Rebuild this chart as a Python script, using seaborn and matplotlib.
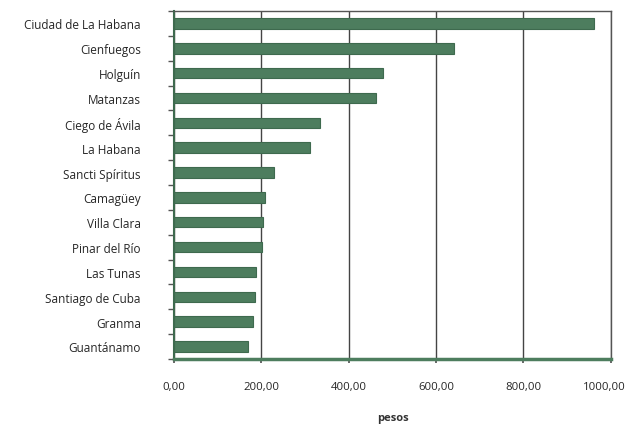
import matplotlib
matplotlib.use("Agg")
import matplotlib.pyplot as plt
import matplotlib.transforms as mtransforms
import seaborn as sns
import pandas as pd
import numpy as np
from matplotlib.ticker import FuncFormatter, FixedLocator

provincias = ["Ciudad de La Habana", "Cienfuegos", "Holguín", "Matanzas",
              "Ciego de Ávila", "La Habana", "Sancti Spíritus", "Camagüey",
              "Villa Clara", "Pinar del Río", "Las Tunas", "Santiago de Cuba",
              "Granma", "Guantánamo"]
valores = [962, 640, 478, 462, 334, 311, 229, 208, 203, 201, 187, 185, 181, 169]
xticks = [0, 200, 400, 600, 800, 1000]
xlabel = "pesos"

df = pd.DataFrame({"provincia": provincias, "valor": valores})

sns.set_theme(style="white")
plt.rcParams['font.family'] = ['Open Sans', 'DejaVu Sans']

fig = plt.figure(figsize=(6.31, 4.31), dpi=100)
ax = fig.add_axes([0.276, 0.165, 0.692, 0.807])

sns.barplot(data=df, x="valor", y="provincia", orient="h", color="#4d7d5e",
            saturation=1, width=0.42, ax=ax, edgecolor="#3e6a4e", linewidth=0.8)

ax.set_xlim(0, 1000)
ax.xaxis.set_major_locator(FixedLocator(xticks))
ax.xaxis.set_major_formatter(FuncFormatter(lambda v, p: f"{v:.2f}".replace(".", ",")))
ax.yaxis.set_minor_locator(FixedLocator(np.arange(-0.5, len(provincias), 1.0)))
ax.grid(axis="x", color="#444444", linewidth=1)
ax.set_axisbelow(True)
ax.set_xlabel(xlabel, fontsize=8, labelpad=14, fontweight="bold", color="#333333")
ax.set_ylabel("")
ax.tick_params(axis="x", labelsize=8.2, pad=13, length=3, color="#555555", direction="out", bottom=True)
ax.tick_params(axis="y", labelsize=8.5, pad=24, length=0)
ax.tick_params(axis="y", which="minor", length=4, width=1, color="#555555", left=True)
for s in ["top", "right", "left"]:
    ax.spines[s].set_color("#555555")
    ax.spines[s].set_linewidth(1)
ax.spines["bottom"].set_color("#4d7d5e")
ax.spines["bottom"].set_linewidth(2.5)
ax.spines["left"].set_color("#3e6a4e")
ax.spines["left"].set_linewidth(1.5)

fig.canvas.draw()
last = ax.get_xticklabels()[-1]
last.set_transform(last.get_transform() + mtransforms.ScaledTranslation(-6/100, 0, fig.dpi_scale_trans))

fig.savefig("out.png", dpi=100, facecolor="white")
